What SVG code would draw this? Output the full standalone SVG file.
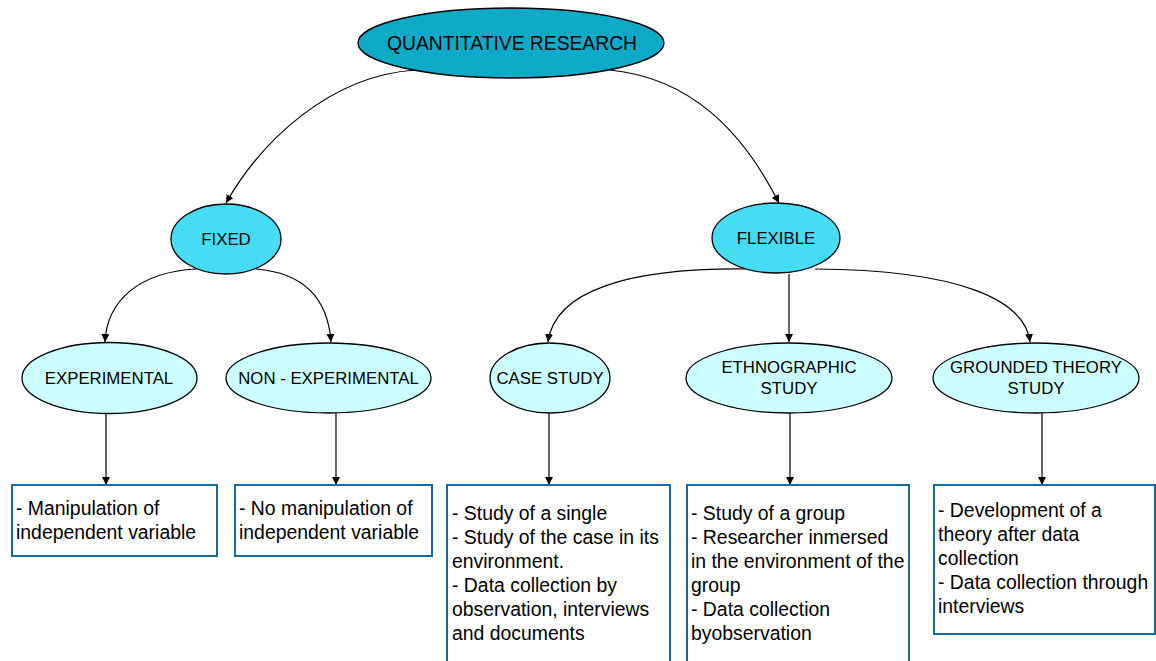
<svg xmlns="http://www.w3.org/2000/svg" width="1156" height="661" viewBox="0 0 1156 661">
  <style>
    .node { stroke: #000; stroke-width: 1.3; }
    .root { fill: #0eaac8; }
    .mid { fill: #45dcf4; }
    .leaf { fill: #ccffff; }
    .box { fill: #fff; stroke: #176aa0; stroke-width: 2; }
    .lbl { font-family: "Liberation Sans", Arial, sans-serif; font-size: 16.8px; fill: #000; text-anchor: middle; }
    .big { font-size: 19.3px; }
    .txt { font-family: "Liberation Sans", Arial, sans-serif; font-size: 19.4px; fill: #000; }
    .edge { fill: none; stroke: #000; stroke-width: 1.2; marker-end: url(#arrow); }
  </style>
  <defs>
    <marker id="arrow" viewBox="0 0 10 10" refX="10" refY="5" markerWidth="8" markerHeight="10" markerUnits="userSpaceOnUse" orient="auto">
      <path d="M0,0 L10,5 L0,10 z" fill="#000"/>
    </marker>
  </defs>
  <rect width="1156" height="661" fill="#fff"/>

  <g id="connectors">
    <path class="edge" d="M415,70 C330,76 262,140 226,203"/>
    <path class="edge" d="M610,70 C690,78 742,130 779,203"/>
    <path class="edge" d="M196,269 C140,272 107,300 105,342"/>
    <path class="edge" d="M256,269 C305,273 328,300 331,342"/>
    <path class="edge" d="M745,269 C630,268 555,290 548,342"/>
    <path class="edge" d="M789,274 L789,342"/>
    <path class="edge" d="M815,269 C960,270 1025,300 1030,342"/>
    <path class="edge" d="M106,414 L106,485"/>
    <path class="edge" d="M336,413 L336,485"/>
    <path class="edge" d="M549,413 L549,485"/>
    <path class="edge" d="M790,413 L790,485"/>
    <path class="edge" d="M1042,413 L1042,485"/>
  </g>

  <g id="quantitative-research">
    <ellipse class="node root" cx="511" cy="43" rx="153" ry="35"/>
    <text class="lbl big" x="512" y="50">QUANTITATIVE RESEARCH</text>
  </g>

  <g id="fixed">
    <ellipse class="node mid" cx="226" cy="239" rx="55" ry="35"/>
    <text class="lbl" x="226" y="245">FIXED</text>
  </g>

  <g id="flexible">
    <ellipse class="node mid" cx="776" cy="238" rx="64" ry="35"/>
    <text class="lbl" x="776" y="244">FLEXIBLE</text>
  </g>

  <g id="experimental">
    <ellipse class="node leaf" cx="109.5" cy="378" rx="87.5" ry="35.5"/>
    <text class="lbl" x="109" y="384">EXPERIMENTAL</text>
  </g>

  <g id="non-experimental">
    <ellipse class="node leaf" cx="328.5" cy="378" rx="102.5" ry="35"/>
    <text class="lbl" x="328.5" y="384">NON - EXPERIMENTAL</text>
  </g>

  <g id="case-study">
    <ellipse class="node leaf" cx="550" cy="378" rx="60" ry="35"/>
    <text class="lbl" x="550" y="384">CASE STUDY</text>
  </g>

  <g id="ethnographic-study">
    <ellipse class="node leaf" cx="789" cy="378" rx="103" ry="35"/>
    <text class="lbl" x="789" y="373">ETHNOGRAPHIC</text>
    <text class="lbl" x="789" y="394">STUDY</text>
  </g>

  <g id="grounded-theory-study">
    <ellipse class="node leaf" cx="1036" cy="378" rx="103" ry="35"/>
    <text class="lbl" x="1036" y="373">GROUNDED THEORY</text>
    <text class="lbl" x="1036" y="394">STUDY</text>
  </g>

  <g id="experimental-notes">
    <rect class="box" x="12" y="485" width="205" height="71"/>
    <text class="txt" x="16" y="515">- Manipulation of</text>
    <text class="txt" x="16" y="539">independent variable</text>
  </g>

  <g id="non-experimental-notes">
    <rect class="box" x="235" y="485" width="197" height="71"/>
    <text class="txt" x="239" y="515">- No manipulation of</text>
    <text class="txt" x="239" y="539">independent variable</text>
  </g>

  <g id="case-study-notes">
    <rect class="box" x="447" y="485" width="223" height="190"/>
    <text class="txt" x="452" y="520">- Study of a single</text>
    <text class="txt" x="452" y="544">- Study of the case in its</text>
    <text class="txt" x="452" y="568">environment.</text>
    <text class="txt" x="452" y="592">- Data collection by</text>
    <text class="txt" x="452" y="616">observation, interviews</text>
    <text class="txt" x="452" y="640">and documents</text>
  </g>

  <g id="ethnographic-study-notes">
    <rect class="box" x="687" y="485" width="222" height="190"/>
    <text class="txt" x="691" y="520">- Study of a group</text>
    <text class="txt" x="691" y="544">- Researcher inmersed</text>
    <text class="txt" x="691" y="568">in the environment of the</text>
    <text class="txt" x="691" y="592">group</text>
    <text class="txt" x="691" y="616">- Data collection</text>
    <text class="txt" x="691" y="640">byobservation</text>
  </g>

  <g id="grounded-theory-notes">
    <rect class="box" x="934" y="485" width="221" height="149"/>
    <text class="txt" x="938" y="517">- Development of a</text>
    <text class="txt" x="938" y="541">theory after data</text>
    <text class="txt" x="938" y="565">collection</text>
    <text class="txt" x="938" y="589">- Data collection through</text>
    <text class="txt" x="938" y="613">interviews</text>
  </g>
</svg>
